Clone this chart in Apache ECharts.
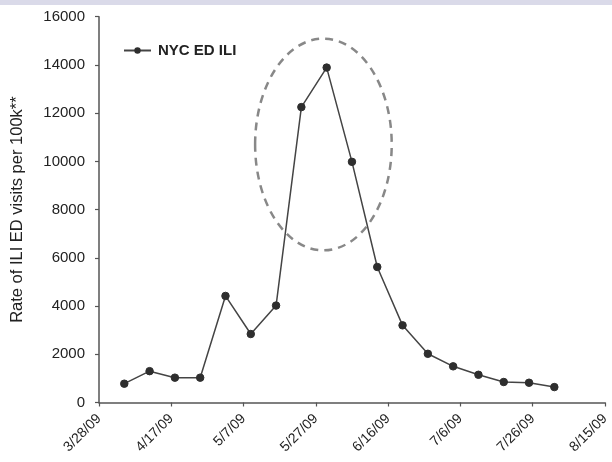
<!DOCTYPE html>
<html><head><meta charset="utf-8">
<script src="https://cdn.jsdelivr.net/npm/echarts@6/dist/echarts.min.js"></script>
<style>html,body{margin:0;padding:0;background:#fff}#c{width:612px;height:462px}</style>
</head><body><div id="c"></div>
<script>
// Weekly dates (days after 3/28/09) and rates
const startDate = new Date(2009, 2, 28);
const dates = ['2009-04-04','2009-04-11','2009-04-18','2009-04-25','2009-05-02','2009-05-09','2009-05-16','2009-05-23','2009-05-30','2009-06-06','2009-06-13','2009-06-20','2009-06-27','2009-07-04','2009-07-11','2009-07-18','2009-07-25','2009-08-01'];
const nycEdIli = [780, 1300, 1030, 1030, 4420, 2840, 4020, 12250, 13890, 9980, 5620, 3200, 2020, 1500, 1150, 850, 820, 640];
const xTickDays = [0, 20, 40, 60, 80, 100, 120, 140];
const yTicks = [0, 2000, 4000, 6000, 8000, 10000, 12000, 14000, 16000];
// highlighted region (ellipse) around peak, in data units: center day, center value, half-width days, half-height value
const highlight = {day: 62.1, value: 10700, halfDays: 18.9, halfValue: 4390};

function dayOf(s){const p=s.split('-');const d=new Date(+p[0],+p[1]-1,+p[2]);return Math.round((d-startDate)/86400000);}
function fmt(day){const d=new Date(startDate.getTime()+day*86400000);return (d.getMonth()+1)+'/'+d.getDate()+'/'+String(d.getFullYear()).slice(2);}

const font = '"Liberation Sans", Arial, sans-serif';
const chart = echarts.init(document.getElementById('c'), null, {renderer:'canvas'});
const option = {
  animation:false,
  backgroundColor:'#fff',
  grid:{left:99, right:7, top:16.7, bottom:59.5, containLabel:false},
  legend:{show:true, left:118, top:38, itemWidth:27, itemHeight:8, itemGap:10,
    textStyle:{fontFamily:font, fontSize:15, color:'#222', fontWeight:'bold', padding:[0,0,0,2]},
    data:['NYC ED ILI']},
  xAxis:{type:'value', min:0, max:140, interval:20,
    axisLine:{lineStyle:{color:'#555', width:1.5}},
    axisTick:{show:true, length:4, lineStyle:{color:'#555', width:1.2}},
    splitLine:{show:false},
    axisLabel:{rotate:45, margin:14, fontFamily:font, fontSize:14, color:'#222', formatter:v=>fmt(v)}},
  yAxis:{type:'value', min:0, max:16000, interval:2000,
    name:'Rate of ILI ED visits per 100k**', nameLocation:'middle', nameGap:73,
    nameTextStyle:{fontFamily:font, fontSize:16.5, color:'#222'},
    axisLine:{show:true, lineStyle:{color:'#555', width:1.5}},
    axisTick:{show:true, length:4, lineStyle:{color:'#555', width:1.2}},
    splitLine:{show:false},
    axisLabel:{margin:14, fontFamily:font, fontSize:15, color:'#222', formatter:v=>String(v)}},
  series:[{name:'NYC ED ILI', type:'line', data:dates.map((d,i)=>[dayOf(d), nycEdIli[i]]),
    symbol:'circle', symbolSize:7.5,
    lineStyle:{color:'#444', width:1.5},
    itemStyle:{color:'#2e2e2e', borderColor:'#2e2e2e'}}]
};
chart.setOption(option);
const c = chart.convertToPixel({gridIndex:0}, [highlight.day, highlight.value]);
const e = chart.convertToPixel({gridIndex:0}, [highlight.day+highlight.halfDays, highlight.value+highlight.halfValue]);
chart.setOption({graphic:[
  {type:'rect', shape:{x:0,y:0,width:612,height:5}, style:{fill:'#dadae9'}, z:10},
  {type:'ellipse', shape:{cx:c[0], cy:c[1], rx:e[0]-c[0], ry:c[1]-e[1]},
   style:{fill:null, stroke:'#888', lineWidth:2.5, lineDash:[8,6]}, z:5}
]});
</script></body></html>
